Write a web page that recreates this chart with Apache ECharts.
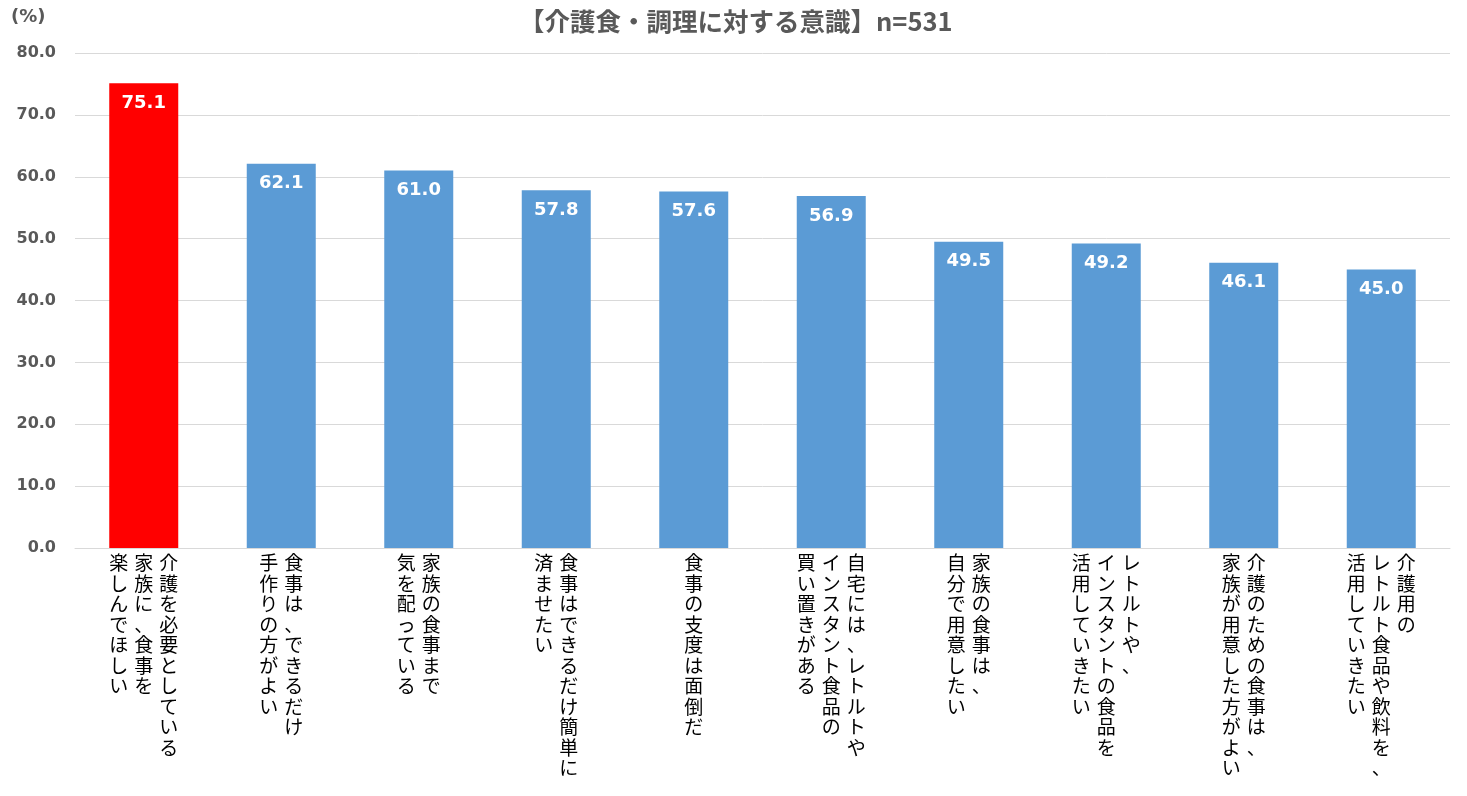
<!DOCTYPE html>
<html>
<head>
<meta charset="utf-8">
<script src="https://cdn.jsdelivr.net/npm/echarts@6/dist/echarts.min.js"></script>
<style>
html,body{margin:0;padding:0;background:#fff;}
#chart{width:1467px;height:796px;}
</style>
</head>
<body>
<div id="chart"></div>
<script>
// Category labels: each entry lists its vertical columns, first (rightmost) column first
const categories = [
  ['介護を必要としている', '家族に、食事を', '楽しんでほしい'],
  ['食事は、できるだけ', '手作りの方がよい'],
  ['家族の食事まで', '気を配っている'],
  ['食事はできるだけ簡単に', '済ませたい'],
  ['食事の支度は面倒だ'],
  ['自宅には、レトルトや', 'インスタント食品の', '買い置きがある'],
  ['家族の食事は、', '自分で用意したい'],
  ['レトルトや、', 'インスタントの食品を', '活用していきたい'],
  ['介護のための食事は、', '家族が用意した方がよい'],
  ['介護用の', 'レトルト食品や飲料を、', '活用していきたい']
];
const values = [75.1, 62.1, 61.0, 57.8, 57.6, 56.9, 49.5, 49.2, 46.1, 45.0];
const highlightIndex = 0;

const catKeys = categories.map(c => c.join(''));

function verticalLabel(cols) {
  const chars = cols.map(c => Array.from(c));
  const maxLen = Math.max(...chars.map(c => c.length));
  const rows = [];
  for (let r = 0; r < maxLen; r++) {
    let row = '';
    for (let k = chars.length - 1; k >= 0; k--) {
      const ch = chars[k][r] || '　';
      row += '{c|' + ch + '}';
    }
    rows.push(row);
  }
  return rows.join('\n');
}

const chart = echarts.init(document.getElementById('chart'));
chart.setOption({
  animation: false,
  title: [{
    text: '【介護食・調理に対する意識】n=531',
    left: 514,
    top: 4,
    textStyle: {
      fontFamily: '"Noto Sans CJK JP", "DejaVu Sans", sans-serif',
      fontSize: 25.5,
      fontWeight: 'bold',
      color: '#595959'
    }
  }, {
    text: '(%)',
    left: 6,
    top: 3,
    textStyle: {
      fontFamily: '"DejaVu Sans", sans-serif',
      fontSize: 18,
      fontWeight: 'bold',
      color: '#595959'
    }
  }],
  grid: { left: 75, right: 17, top: 53, bottom: 248, containLabel: false },
  xAxis: {
    type: 'category',
    data: catKeys,
    axisLine: { show: true, lineStyle: { color: '#D9D9D9', width: 1 } },
    axisTick: { show: false },
    axisLabel: {
      interval: 0,
      margin: 5,
      verticalAlign: 'top',
      align: 'center',
      formatter: function (v, i) { return verticalLabel(categories[i]); },
      rich: {
        c: {
          width: 25,
          align: 'center',
          fontSize: 19,
          lineHeight: 20.5,
          color: '#000',
          fontFamily: '"Noto Sans CJK JP", sans-serif'
        }
      }
    }
  },
  yAxis: {
    type: 'value',
    min: 0,
    max: 80,
    interval: 10,
    axisLine: { show: false },
    axisTick: { show: false },
    splitLine: { lineStyle: { color: '#D9D9D9', width: 1 } },
    axisLabel: {
      margin: 19,
      formatter: v => v.toFixed(1),
      fontFamily: '"DejaVu Sans", sans-serif',
      fontSize: 16,
      fontWeight: 'bold',
      color: '#595959'
    }
  },
  series: [{
    type: 'bar',
    barWidth: 69,
    data: values.map((v, i) => i === highlightIndex ? { value: v, itemStyle: { color: '#FF0000' } } : v),
    itemStyle: { color: '#5B9BD5' },
    label: {
      show: true,
      position: 'insideTop',
      distance: 11,
      formatter: p => p.value.toFixed(1),
      fontFamily: '"DejaVu Sans", sans-serif',
      fontSize: 18,
      fontWeight: 'bold',
      color: '#fff'
    }
  }]
});
</script>
</body>
</html>
